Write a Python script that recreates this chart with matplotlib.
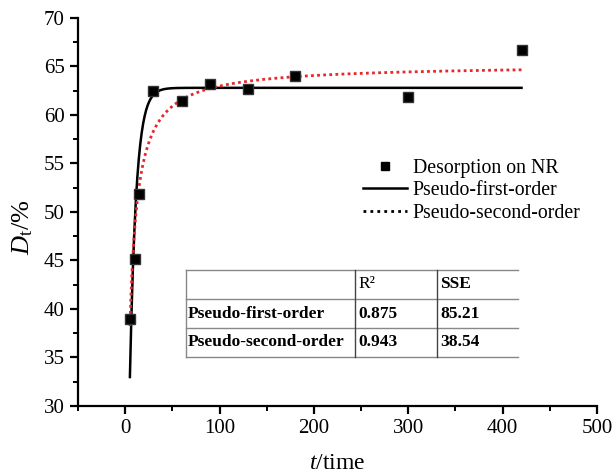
import numpy as np
import matplotlib
matplotlib.use("Agg")
import matplotlib.pyplot as plt
from matplotlib.lines import Line2D

# measured desorption data
t_data = [5, 10, 15, 30, 60, 90, 130, 180, 300, 420]
dt_data = [39.0, 45.2, 51.9, 62.5, 61.4, 63.2, 62.7, 64.0, 61.9, 66.7]

# fitted model parameters
qe_first, k_first = 62.8, 0.149
qe_second, h_second = 65.2, 18.5
t_fit_start, t_fit_end = 5, 420

table_cols = ["", "R\u00b2", "SSE"]
table_rows = ["Pseudo-first-order", "Pseudo-second-order"]
r2_vals = ["0.875", "0.943"]
sse_vals = ["85.21", "38.54"]

plt.rcParams["font.family"] = ["Liberation Serif", "DejaVu Serif"]
plt.rcParams["mathtext.fontset"] = "custom"
plt.rcParams["mathtext.rm"] = "Liberation Serif"
plt.rcParams["mathtext.it"] = "Liberation Serif:italic"

W, H = 614, 475
fig = plt.figure(figsize=(W / 100, H / 100), dpi=100)
ax = fig.add_axes([78 / W, 1 - 406 / H, (597 - 78) / W, (406 - 18) / H])

t_fit = np.linspace(t_fit_start, t_fit_end, 800)
pfo = qe_first * (1 - np.exp(-k_first * t_fit))
pso = h_second * t_fit / (1 + h_second * t_fit / qe_second)

ax.plot(t_fit, pso, color="#e8262b", lw=2.0, ls=(0, (1, 1.2)), zorder=3)
ax.plot(t_fit, pfo, color="black", lw=1.8, zorder=2)
ax.plot(t_data, dt_data, ls="none", marker="s", ms=6.8, color="black",
        mec="#333333", zorder=4)

ax.set_xlim(-50, 500)
ax.set_ylim(30, 70)
ax.set_xticks(np.arange(0, 501, 100))
ax.set_xticks(np.arange(-50, 501, 50), minor=True)
ax.set_yticks(np.arange(30, 71, 5))
ax.set_yticks(np.arange(30, 71, 2.5), minor=True)
for s in ["top", "right"]:
    ax.spines[s].set_visible(False)
for s in ["left", "bottom"]:
    ax.spines[s].set_linewidth(1.6)
ax.tick_params(which="major", direction="out", length=6, width=1.6, labelsize=15)
ax.tick_params(which="minor", direction="out", length=3.5, width=1.4)

ax.set_xlabel("$t$/time", fontsize=17, labelpad=11)
ax.set_ylabel("$D_\\mathrm{t}$/%", fontsize=19)
ax.yaxis.set_label_coords(-0.083, 0.46)

handles = [
    Line2D([], [], ls="none", marker="s", ms=6, color="black"),
    Line2D([], [], color="black", lw=1.8),
    Line2D([], [], color="black", lw=2.0, ls=(0, (1, 1.5))),
]
labels = ["Desorption on NR", "Pseudo-first-order", "Pseudo-second-order"]
ax.legend(handles, labels, loc="upper left", bbox_to_anchor=(363 / W, 1 - 159 / H),
          bbox_transform=fig.transFigure, frameon=False, fontsize=14.3,
          handlelength=2.2, handletextpad=0.3, labelspacing=0.17,
          borderaxespad=0, borderpad=0)

# table drawn in figure pixels
def fx(x):
    return x / W

def fy(y):
    return 1 - y / H

grid = "#888888"
x_left, x_c1, x_c2, x_right = 186, 355, 437, 518
y_lines = [270, 299, 328, 357]
for y in y_lines:
    fig.add_artist(Line2D([fx(x_left), fx(x_right)], [fy(y), fy(y)],
                          color=grid, lw=1.0))
for x in [x_left, x_c1, x_c2]:
    fig.add_artist(Line2D([fx(x), fx(x)], [fy(y_lines[0]), fy(y_lines[-1])],
                          color=grid if x == x_left else "#444444", lw=1.0))

fs = 12.5
col_x = [x_left + 2, x_c1 + 3, x_c2 + 3]
ymid = [(y_lines[i] + y_lines[i + 1]) / 2 for i in range(3)]
fig.text(fx(col_x[1]), fy(ymid[0]), table_cols[1], fontsize=fs, va="center")
fig.text(fx(col_x[2]), fy(ymid[0]), table_cols[2], fontsize=fs, va="center",
         fontweight="bold")
for i, name in enumerate(table_rows):
    fig.text(fx(col_x[0]), fy(ymid[i + 1]), name, fontsize=fs, va="center",
             fontweight="bold")
    fig.text(fx(col_x[1]), fy(ymid[i + 1]), r2_vals[i], fontsize=fs, va="center",
             fontweight="bold")
    fig.text(fx(col_x[2]), fy(ymid[i + 1]), sse_vals[i], fontsize=fs, va="center",
             fontweight="bold")

fig.savefig("out.png", dpi=100)
